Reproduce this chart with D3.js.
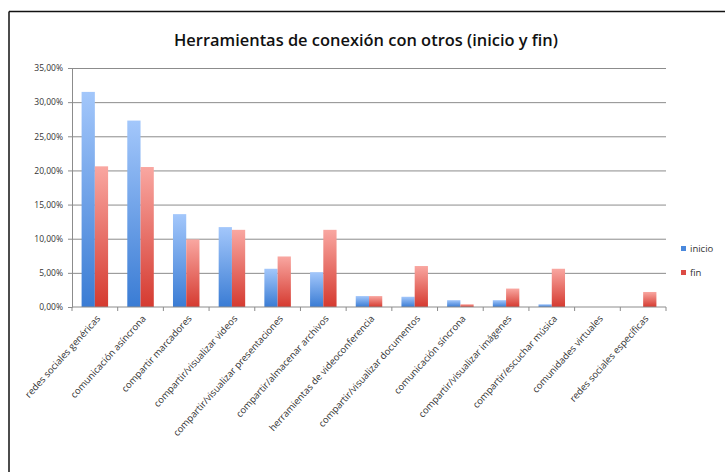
<!DOCTYPE html>
<html lang='es'>
  <head>
    <meta charset='utf-8'>
    <script type='text/javascript' src='https://cdnjs.cloudflare.com/ajax/libs/d3/7.8.5/d3.min.js'></script>
    <style>
      body { margin: 0; background: #fff; }
      svg text { font-family: 'Open Sans', sans-serif; }
    </style>
  </head>
  <body>
    <div id='chart'></div>
    <script type='text/javascript'>

      // data
      var categories = ['redes sociales genéricas', 'comunicación asíncrona', 'compartir marcadores',
        'compartir/visualizar videos', 'compartir/visualizar presentaciones', 'compartir/almacenar archivos',
        'herramientas de videoconferencia', 'compartir/visualizar documentos', 'comunicación síncrona',
        'compartir/visualizar imágenes', 'compartir/escuchar música', 'comunidades virtuales',
        'redes sociales específicas'];
      var seriesNames = ['inicio', 'fin'];
      var inicio = [31.5, 27.3, 13.6, 11.7, 5.6, 5.1, 1.6, 1.5, 1.0, 1.0, 0.4, 0, 0];
      var fin = [20.6, 20.5, 9.9, 11.3, 7.4, 11.3, 1.6, 6.0, 0.4, 2.7, 5.6, 0, 2.2];
      var yTicks = [0, 5, 10, 15, 20, 25, 30, 35];

      var svgWidth = 725;
      var svgHeight = 472;
      var plotLeft = 72, plotRight = 666, plotTop = 68, plotBottom = 307;

      var svg = d3.select('#chart').append('svg')
                  .attr('width', svgWidth)
                  .attr('height', svgHeight);

      // frame (only top and left edges show)
      svg.append('line').attr('x1', 9).attr('x2', svgWidth).attr('y1', 11.5).attr('y2', 11.5)
         .attr('stroke', '#111').attr('stroke-width', 1.5);
      svg.append('line').attr('x1', 9).attr('x2', 9).attr('y1', 11.5).attr('y2', svgHeight)
         .attr('stroke', '#111').attr('stroke-width', 1.5);

      // gradients
      var defs = svg.append('defs');
      var grads = [['gInicio', '#a3c7fb', '#3a7cd4'], ['gFin', '#f9a7a1', '#d53a30']];
      grads.forEach(function(g) {
        var lg = defs.append('linearGradient').attr('id', g[0])
                     .attr('x1', 0).attr('x2', 0).attr('y1', 0).attr('y2', 1);
        lg.append('stop').attr('offset', '0%').attr('stop-color', g[1]);
        lg.append('stop').attr('offset', '100%').attr('stop-color', g[2]);
      });

      // scales
      var xScale = d3.scaleBand().domain(categories).range([plotLeft, plotRight]).paddingInner(0.42).paddingOuter(0.21);
      var xSub = d3.scaleBand().domain(seriesNames).range([0, xScale.bandwidth()]);
      var yScale = d3.scaleLinear().domain([0, 35]).range([plotBottom, plotTop]);

      // gridlines
      svg.append('g')
         .attr('class', 'grid')
         .attr('transform', 'translate(' + plotLeft + ',0)')
         .call(d3.axisLeft(yScale).tickValues(yTicks.slice(1)).tickSize(-(plotRight - plotLeft)).tickFormat(''))
         .call(function(g) { g.select('.domain').remove(); })
         .selectAll('line').attr('stroke', '#8c8c8c');

      // y axis
      var yAxis = svg.append('g')
         .attr('transform', 'translate(' + plotLeft + ',0)')
         .call(d3.axisLeft(yScale).tickValues(yTicks).tickSize(4).tickPadding(5)
           .tickFormat(function(d) { return d.toFixed(2).replace('.', ',') + '%'; }));
      yAxis.select('.domain').attr('stroke', '#8c8c8c');
      yAxis.selectAll('line').attr('stroke', '#8c8c8c');
      yAxis.selectAll('text').attr('fill', '#333').style('font-size', '8.5px');

      // bars
      var rows = categories.map(function(c, i) { return {cat: c, inicio: inicio[i], fin: fin[i]}; });
      var groups = svg.selectAll('g.cat').data(rows).enter().append('g')
                      .attr('class', 'cat')
                      .attr('transform', function(d) { return 'translate(' + xScale(d.cat) + ',0)'; });
      groups.selectAll('rect')
            .data(function(d) { return seriesNames.map(function(s) { return {key: s, value: d[s]}; }); })
            .enter().append('rect')
            .attr('x', function(d) { return xSub(d.key); })
            .attr('y', function(d) { return yScale(d.value); })
            .attr('width', xSub.bandwidth())
            .attr('height', function(d) { return plotBottom - yScale(d.value); })
            .attr('fill', function(d) { return d.key === 'inicio' ? 'url(#gInicio)' : 'url(#gFin)'; });

      // x axis, ticks between categories
      var step = (plotRight - plotLeft) / categories.length;
      var xAxis = svg.append('g').attr('transform', 'translate(0,' + plotBottom + ')');
      xAxis.append('line').attr('x1', plotLeft).attr('x2', plotRight).attr('stroke', '#8c8c8c');
      xAxis.selectAll('line.tk').data(d3.range(categories.length + 1)).enter().append('line')
           .attr('class', 'tk')
           .attr('x1', function(i) { return plotLeft + i * step; })
           .attr('x2', function(i) { return plotLeft + i * step; })
           .attr('y1', 0).attr('y2', 4).attr('stroke', '#8c8c8c');
      xAxis.selectAll('text').data(categories).enter().append('text')
           .text(function(d) { return d; })
           .attr('text-anchor', 'end')
           .attr('fill', '#333')
           .style('font-size', '9.5px')
           .attr('transform', function(d) {
             return 'translate(' + (xScale(d) + xScale.bandwidth() / 2 + 6) + ',12) rotate(-48)';
           });

      // title
      svg.append('text')
         .text('Herramientas de conexión con otros (inicio y fin)')
         .attr('x', 366).attr('y', 46)
         .attr('text-anchor', 'middle')
         .attr('textLength', 384)
         .attr('lengthAdjust', 'spacingAndGlyphs')
         .attr('fill', '#111')
         .style('font-weight', '600')
         .style('font-size', '17px');

      // legend
      var legend = svg.selectAll('g.legend').data(seriesNames).enter().append('g')
                      .attr('class', 'legend')
                      .attr('transform', function(d, i) { return 'translate(681,' + (246 + i * 24) + ')'; });
      legend.append('rect').attr('width', 5).attr('height', 5)
            .attr('fill', function(d) { return d === 'inicio' ? '#4a88dc' : '#dc4a44'; });
      legend.append('text').text(function(d) { return d; })
            .attr('x', 9).attr('y', 6)
            .attr('fill', '#333')
            .style('font-size', '9.5px');

    </script>
  </body>
</html>
